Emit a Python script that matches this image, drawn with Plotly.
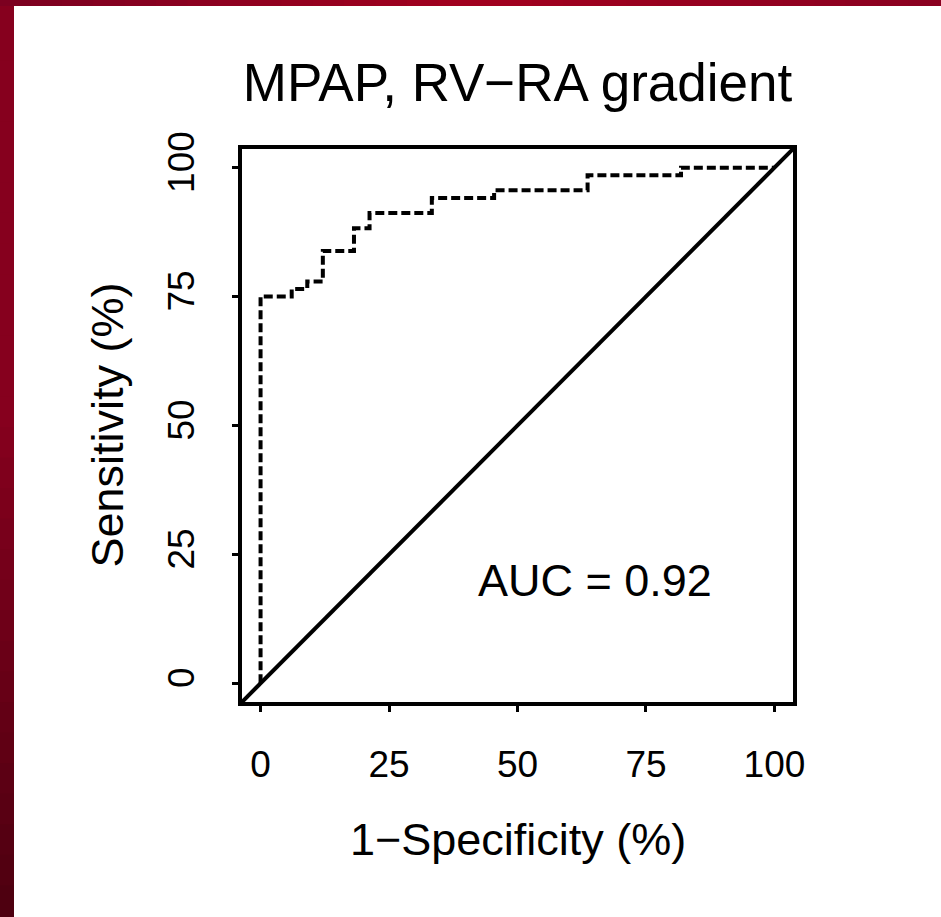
import plotly.graph_objects as go

# ---- data ----
fpr = [0, 0, 6.06, 9.09, 12.12, 18.18, 21.21, 33.33, 45.45, 63.64, 81.82, 100]
tpr = [0, 75, 76.47, 77.94, 83.82, 88.24, 91.18, 94.12, 95.59, 98.53, 100, 100]
tick_vals = [0, 25, 50, 75, 100]
tick_text = ["0", "25", "50", "75", "100"]
axis_range = [-4, 104]
title_text = "MPAP, RV\u2212RA gradient"
x_title = "1\u2212Specificity (%)"
y_title = "Sensitivity (%)"
auc_label = "AUC = 0.92"
auc_pos = (65, 20)

W, H = 941, 917
L, R, T, B = 240, 146, 147, 213
PW, PH = W - L - R, H - T - B

def px(xp):
    return (xp - L) / PW

def py(yp):
    return (H - B - yp) / PH

FONT = "Liberation Sans, Arial, Helvetica, sans-serif"

fig = go.Figure()
fig.add_trace(go.Scatter(
    x=fpr, y=tpr, mode="lines",
    line=dict(shape="hv", dash="9px,4px", width=4, color="black"),
    showlegend=False, hoverinfo="skip"))

def hexlerp(c1, c2, t):
    a = [int(c1[i:i + 2], 16) for i in (1, 3, 5)]
    b = [int(c2[i:i + 2], 16) for i in (1, 3, 5)]
    return "#%02x%02x%02x" % tuple(round(a[k] + (b[k] - a[k]) * t) for k in range(3))

shapes = []
# white page area over red paper
shapes.append(dict(type="rect", xref="paper", yref="paper", x0=px(14), x1=px(W + 2),
                   y0=py(H + 2), y1=py(6), fillcolor="white", line=dict(width=0), layer="below"))
n = 30
for i in range(n):
    y0 = H * i / n - 1
    y1 = H * (i + 1) / n + 1
    t = i / (n - 1)
    col = "#86001e" if t < 0.45 else hexlerp("#86001e", "#4e0010", (t - 0.45) / 0.55)
    shapes.append(dict(type="rect", xref="paper", yref="paper", x0=px(-1), x1=px(14),
                       y0=py(y1), y1=py(y0), fillcolor=col, line=dict(width=0), layer="below"))
for i in range(n):
    x0 = W * i / n - 1
    x1 = W * (i + 1) / n + 1
    t = i / (n - 1)
    col = hexlerp("#7c0020", "#a2001f", t / 0.5) if t < 0.5 else hexlerp("#a2001f", "#8a0020", (t - 0.5) / 0.5)
    shapes.append(dict(type="rect", xref="paper", yref="paper", x0=px(x0), x1=px(x1),
                       y0=py(6), y1=py(-1), fillcolor=col, line=dict(width=0), layer="below"))

# plot box
shapes.append(dict(type="rect", xref="paper", yref="paper", x0=0, x1=1, y0=0, y1=1,
                   line=dict(color="black", width=4), layer="above"))
# reference diagonal
shapes.append(dict(type="line", xref="x", yref="y", x0=axis_range[0], y0=axis_range[0],
                   x1=axis_range[1], y1=axis_range[1], line=dict(color="black", width=4)))

annotations = [
    dict(text=auc_label, x=auc_pos[0], y=auc_pos[1], xref="x", yref="y", showarrow=False,
         font=dict(family=FONT, size=45, color="black"), xanchor="center", yanchor="middle"),
    dict(text=x_title, x=0.5, y=py(839), xref="paper", yref="paper", showarrow=False,
         font=dict(family=FONT, size=45, color="black"), xanchor="center", yanchor="middle"),
    dict(text=y_title, x=px(107), y=0.5, xref="paper", yref="paper", showarrow=False, textangle=-90,
         font=dict(family=FONT, size=45, color="black"), xanchor="center", yanchor="middle"),
]

axis_common = dict(range=axis_range, showgrid=False, zeroline=False, showline=False,
                   ticks="outside", ticklen=7, tickwidth=3, tickcolor="black",
                   tickvals=tick_vals, ticktext=tick_text,
                   tickfont=dict(family=FONT, size=37, color="black"))

fig.update_layout(
    width=W, height=H,
    margin=dict(l=L, r=R, t=T, b=B),
    paper_bgcolor="#86001e", plot_bgcolor="white",
    title=dict(text=title_text, xref="paper", x=0.5, xanchor="center", y=1 - 82 / H, yanchor="middle",
               font=dict(family=FONT, size=53, color="black")),
    xaxis=dict(**axis_common, ticklabelstandoff=21),
    yaxis=dict(**axis_common, tickangle=-90, ticklabelstandoff=23),
    shapes=shapes, annotations=annotations,
)

fig.write_html("out.html")
